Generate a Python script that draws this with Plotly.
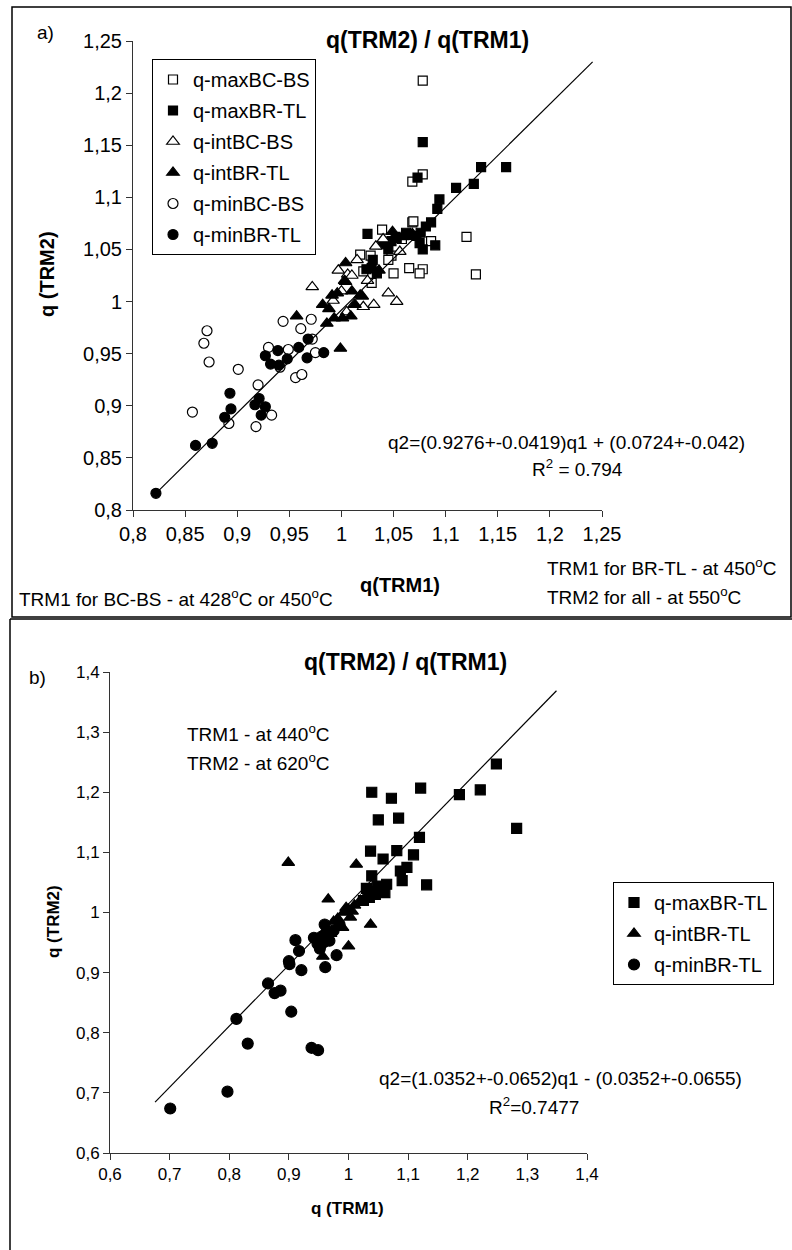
import plotly.graph_objects as go

# ---------------- Panel a data ----------------
a_maxBC_x = [1.078, 1.078, 1.068, 1.068, 1.120, 1.086, 1.129, 1.065, 1.078, 1.075, 1.050, 1.039, 1.018, 1.028, 1.048, 1.029, 1.069, 1.021, 1.058, 1.045]
a_maxBC_y = [1.212, 1.122, 1.115, 1.076, 1.062, 1.058, 1.026, 1.032, 1.031, 1.027, 1.027, 1.069, 1.045, 1.044, 1.044, 1.018, 1.077, 1.029, 1.060, 1.040]

a_maxBR_x = [1.078, 1.134, 1.158, 1.073, 1.110, 1.127, 1.094, 1.092, 1.086, 1.081, 1.076, 1.075, 1.078, 1.090, 1.072, 1.062, 1.052, 1.044, 1.025, 1.045, 1.053, 1.063, 1.029, 1.034, 1.024, 1.040, 1.048, 1.030]
a_maxBR_y = [1.153, 1.129, 1.129, 1.119, 1.109, 1.113, 1.098, 1.089, 1.076, 1.072, 1.066, 1.056, 1.050, 1.054, 1.063, 1.066, 1.062, 1.056, 1.065, 1.050, 1.061, 1.064, 1.032, 1.027, 1.031, 1.055, 1.058, 1.040]

a_intBC_x = [0.972, 0.997, 1.006, 1.010, 1.033, 1.056, 1.045, 1.053, 1.031, 1.021, 1.004, 0.992, 1.005, 1.012, 1.000, 1.015, 1.040, 1.025]
a_intBC_y = [1.014, 1.030, 1.026, 1.025, 1.053, 1.048, 1.008, 1.000, 0.997, 0.995, 1.019, 1.001, 0.990, 0.997, 1.010, 1.040, 1.060, 1.020]

a_intBR_x = [0.957, 0.999, 0.991, 0.982, 0.986, 0.993, 1.001, 1.009, 1.013, 1.020, 0.996, 1.004, 1.028, 1.049, 1.018, 1.003, 1.036, 1.059, 1.068, 1.010, 0.988]
a_intBR_y = [0.986, 0.955, 1.006, 0.997, 0.979, 0.984, 0.984, 0.986, 0.997, 1.005, 1.008, 1.037, 1.034, 1.067, 1.006, 1.020, 1.030, 1.062, 1.065, 1.010, 0.993]

a_minBC_x = [0.871, 0.868, 0.873, 0.901, 0.857, 0.892, 0.918, 0.933, 0.920, 0.930, 0.941, 0.949, 0.956, 0.962, 0.944, 0.961, 0.971, 0.972, 0.975]
a_minBC_y = [0.972, 0.960, 0.942, 0.935, 0.894, 0.883, 0.880, 0.891, 0.920, 0.956, 0.937, 0.954, 0.927, 0.930, 0.981, 0.974, 0.983, 0.964, 0.951]

a_minBR_x = [0.822, 0.860, 0.876, 0.888, 0.894, 0.893, 0.917, 0.921, 0.927, 0.923, 0.927, 0.932, 0.939, 0.940, 0.948, 0.959, 0.968, 0.967, 0.983]
a_minBR_y = [0.816, 0.862, 0.864, 0.889, 0.897, 0.912, 0.901, 0.907, 0.899, 0.891, 0.948, 0.940, 0.953, 0.939, 0.945, 0.956, 0.964, 0.946, 0.951]

a_fit_x = [0.822, 1.241]
a_fit_y = [0.816, 1.230]

a_tickvals = [0.8, 0.85, 0.9, 0.95, 1.0, 1.05, 1.1, 1.15, 1.2, 1.25]
a_ticktext = ["0,8", "0,85", "0,9", "0,95", "1", "1,05", "1,1", "1,15", "1,2", "1,25"]

# ---------------- Panel b data ----------------
b_maxBR_x = [1.248, 1.186, 1.221, 1.282, 1.121, 1.119, 1.072, 1.084, 1.131, 1.081, 1.109, 1.098, 1.087, 1.090, 1.064, 1.061, 1.058, 1.039, 1.050, 1.037, 1.039, 1.048, 1.040, 1.030, 1.045, 1.025, 1.035]
b_maxBR_y = [1.247, 1.196, 1.204, 1.140, 1.207, 1.125, 1.190, 1.157, 1.046, 1.103, 1.096, 1.075, 1.069, 1.053, 1.047, 1.033, 1.089, 1.200, 1.154, 1.102, 1.061, 1.044, 1.035, 1.040, 1.030, 1.020, 1.025]

b_intBR_x = [0.899, 1.013, 0.966, 1.037, 0.957, 1.000, 0.990, 0.975, 0.982, 0.992, 1.000, 1.010, 1.020, 1.030, 1.003, 0.970, 0.986, 1.006, 0.996, 0.960]
b_intBR_y = [1.083, 1.080, 1.022, 0.980, 0.927, 0.944, 0.975, 0.985, 0.990, 1.000, 1.005, 1.012, 1.020, 1.028, 0.992, 0.965, 0.978, 1.002, 1.008, 0.950]

b_minBR_x = [0.701, 0.797, 0.831, 0.812, 0.865, 0.876, 0.886, 0.904, 0.900, 0.901, 0.911, 0.917, 0.921, 0.938, 0.949, 0.961, 0.980, 0.968, 0.942, 0.952, 0.955, 0.962, 0.958, 0.975, 0.985, 0.960, 0.948]
b_minBR_y = [0.674, 0.702, 0.782, 0.823, 0.882, 0.866, 0.870, 0.835, 0.919, 0.914, 0.954, 0.936, 0.904, 0.775, 0.771, 0.909, 0.929, 0.953, 0.958, 0.940, 0.960, 0.966, 0.950, 0.970, 0.980, 0.980, 0.948]

b_fit_x = [0.684, 1.432]
b_fit_y = [0.692, 1.436]

b_tickvals = [0.6, 0.7, 0.8, 0.9, 1.0, 1.1, 1.2, 1.3, 1.4]
b_ticktext = ["0,6", "0,7", "0,8", "0,9", "1", "1,1", "1,2", "1,3", "1,4"]

# ---------------- Layout helpers ----------------
W, H = 792, 1250
FONT = "Liberation Sans, Arial, sans-serif"


def px(x):
    return x / W


def py(y):
    return 1 - y / H


fig = go.Figure()


def add_series(x, y, name, symbol, filled, xa, ya, legend, size=9):
    fig.add_trace(go.Scatter(
        x=x, y=y, mode="markers", name=name,
        xaxis=xa, yaxis=ya, legend=legend, legendgroup=legend + name,
        marker=dict(symbol=symbol, size=size,
                    color="black" if filled else "white",
                    line=dict(color="black", width=1.2)),
    ))


# Panel a
add_series(a_maxBC_x, a_maxBC_y, "q-maxBC-BS", "square", False, "x", "y", "legend", 9)
add_series(a_maxBR_x, a_maxBR_y, "q-maxBR-TL", "square", True, "x", "y", "legend", 9)
add_series(a_intBC_x, a_intBC_y, "q-intBC-BS", "triangle-up", False, "x", "y", "legend", 11)
add_series(a_intBR_x, a_intBR_y, "q-intBR-TL", "triangle-up", True, "x", "y", "legend", 11)
add_series(a_minBC_x, a_minBC_y, "q-minBC-BS", "circle", False, "x", "y", "legend", 10)
add_series(a_minBR_x, a_minBR_y, "q-minBR-TL", "circle", True, "x", "y", "legend", 10)
fig.add_trace(go.Scatter(x=a_fit_x, y=a_fit_y, mode="lines", showlegend=False,
                         line=dict(color="black", width=1.2), xaxis="x", yaxis="y"))

# Panel b
add_series(b_maxBR_x, b_maxBR_y, "q-maxBR-TL", "square", True, "x2", "y2", "legend2", 10)
add_series(b_intBR_x, b_intBR_y, "q-intBR-TL", "triangle-up", True, "x2", "y2", "legend2", 11)
add_series(b_minBR_x, b_minBR_y, "q-minBR-TL", "circle", True, "x2", "y2", "legend2", 11)
# fit line on overlay axes with extended area (line reaches beyond the plot frame)
fig.add_trace(go.Scatter(x=b_fit_x, y=b_fit_y, mode="lines", showlegend=False,
                         line=dict(color="black", width=1.2), xaxis="x3", yaxis="y3"))

# pixel geometry
a_x0, a_x1, a_y0, a_y1 = 133, 602, 510, 41
b_x0, b_x1, b_y0, b_y1 = 110, 587, 1153, 672
b_ppx = (b_x1 - b_x0) / 0.8
b_ppy = (b_y0 - b_y1) / 0.8
ext_x1, ext_y1 = 640, 630

axis_common = dict(showgrid=False, zeroline=False, showline=True, linecolor="#333",
                   linewidth=1, ticks="outside", ticklen=6, tickcolor="#333",
                   mirror=False, automargin=False)

fig.update_layout(
    template="none",
    width=W, height=H,
    margin=dict(l=0, r=0, t=0, b=0, pad=0, autoexpand=False),
    paper_bgcolor="white", plot_bgcolor="white",
    font=dict(family=FONT, color="black"),
    xaxis=dict(domain=[px(a_x0), px(a_x1)], range=[0.8, 1.25], anchor="y",
               tickvals=a_tickvals, ticktext=a_ticktext, tickfont=dict(size=20),
               **axis_common),
    yaxis=dict(domain=[py(a_y0), py(a_y1)], range=[0.8, 1.25], anchor="x",
               tickvals=a_tickvals, ticktext=a_ticktext, tickfont=dict(size=20),
               **axis_common),
    xaxis2=dict(domain=[px(b_x0), px(b_x1)], range=[0.6, 1.4], anchor="y2",
                tickvals=b_tickvals, ticktext=b_ticktext, tickfont=dict(size=17),
                **axis_common),
    yaxis2=dict(domain=[py(b_y0), py(b_y1)], range=[0.6, 1.4], anchor="x2",
                tickvals=b_tickvals, ticktext=b_ticktext, tickfont=dict(size=17),
                **axis_common),
    xaxis3=dict(domain=[px(b_x0), px(ext_x1)],
                range=[0.6, 0.6 + (ext_x1 - b_x0) / b_ppx], anchor="y3",
                visible=False, overlaying="x2", automargin=False),
    yaxis3=dict(domain=[py(b_y0), py(ext_y1)],
                range=[0.6, 0.6 + (b_y0 - ext_y1) / b_ppy], anchor="x3",
                visible=False, overlaying="y2", automargin=False),
    legend=dict(x=px(152), y=py(59), xanchor="left", yanchor="top",
                bordercolor="black", borderwidth=1, bgcolor="white",
                font=dict(size=20, family=FONT), itemwidth=30,
                tracegroupgap=2),
    legend2=dict(x=px(613), y=py(882), xanchor="left", yanchor="top",
                 bordercolor="black", borderwidth=1, bgcolor="white",
                 font=dict(size=20, family=FONT), itemwidth=30,
                 tracegroupgap=2),
)

ann = []


def text(x, y, s, size=19, bold=False, xanchor="center", angle=0):
    if bold:
        s = "<b>" + s + "</b>"
    ann.append(dict(x=px(x), y=py(y), xref="paper", yref="paper", text=s,
                    showarrow=False, xanchor=xanchor, yanchor="middle",
                    textangle=angle, font=dict(size=size, family=FONT, color="black")))


# Panel a texts
text(45, 33, "a)", 19)
text(427, 40, "q(TRM2) / q(TRM1)", 23, True)
text(400, 585, "q(TRM1)", 20, True)
text(47, 274, "q (TRM2)", 20, True, angle=-90)
text(566, 442, "q2=(0.9276+-0.0419)q1 + (0.0724+-0.042)", 19)
text(577, 468, "R<sup>2</sup> = 0.794", 19)
text(545, 567, "TRM1 for BR-TL - at 450<sup>o</sup>C", 19, xanchor="left")
text(545, 596, "TRM2 for all - at 550<sup>o</sup>C", 19, xanchor="left")
text(17, 598, "TRM1 for BC-BS - at 428<sup>o</sup>C or 450<sup>o</sup>C", 19, xanchor="left")

# Panel b texts
text(37, 677, "b)", 19)
text(405, 662, "q(TRM2) / q(TRM1)", 23, True)
text(185, 733, "TRM1 - at 440<sup>o</sup>C", 19, xanchor="left")
text(185, 762, "TRM2 - at 620<sup>o</sup>C", 19, xanchor="left")
text(560, 1078, "q2=(1.0352+-0.0652)q1 - (0.0352+-0.0655)", 19)
text(534, 1106, "R<sup>2</sup>=0.7477", 19)
text(347, 1208, "q (TRM1)", 17, True)
text(53, 922, "q (TRM2)", 17, True, angle=-90)

fig.update_layout(annotations=ann)

# Panel frames
shapes = [
    dict(type="rect", xref="paper", yref="paper", x0=px(12), x1=px(791), y0=py(617), y1=py(7),
         line=dict(color="black", width=1.5)),
    dict(type="line", xref="paper", yref="paper", x0=px(10), x1=px(10), y0=py(619), y1=py(1250),
         line=dict(color="black", width=1.5)),
    dict(type="line", xref="paper", yref="paper", x0=px(10), x1=px(792), y0=py(619), y1=py(619),
         line=dict(color="black", width=1.5)),
]
fig.update_layout(shapes=shapes)

fig.write_html("out.html", config={"displayModeBar": False})

# remove the default page margin so the figure sits at the window origin
with open("out.html", "r", encoding="utf-8") as f:
    html = f.read()
html = html.replace("<body>", '<body style="margin:0;padding:0;overflow:hidden">', 1)
with open("out.html", "w", encoding="utf-8") as f:
    f.write(html)
